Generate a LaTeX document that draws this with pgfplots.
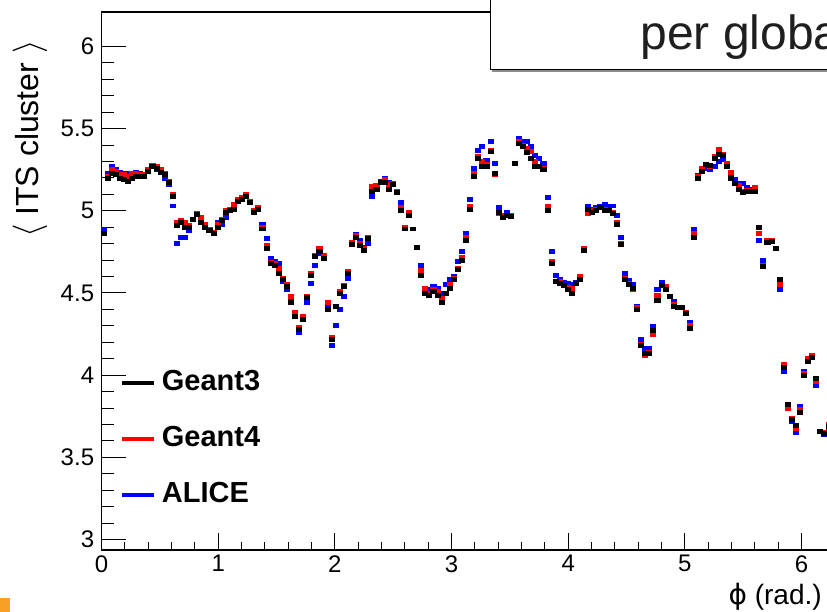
\documentclass[border=0pt]{standalone}
\usepackage{pgfplots}
\pgfplotsset{compat=1.18}
\usepackage{pgfplotstable}
\usepackage{fontspec}
\setmainfont{Liberation Sans}
\newfontfamily\symfont{DejaVu Sans}

\definecolor{g3col}{RGB}{0,0,0}
\definecolor{g4col}{RGB}{255,0,0}
\definecolor{alicecol}{RGB}{0,0,255}
\definecolor{slideorange}{RGB}{247,160,40}

% mean number of ITS clusters per bin of phi (180 bins over 2 pi)
\pgfplotstableread{
phi    g3     g4     alice
0.0175 4.86   4.86   4.89
0.0524 5.20   5.21   5.23
0.0873 5.23   5.25   5.27
0.1222 5.22   5.24   5.25
0.1571 5.20   5.22   5.235
0.1920 5.19   5.22   5.23
0.2269 5.18   5.21   5.23
0.2618 5.20   5.23   5.23
0.2967 5.21   5.23   5.235
0.3316 5.21   5.22   5.225
0.3665 5.21   5.22   5.22
0.4014 5.24   5.25   5.245
0.4363 5.27   5.275  5.27
0.4712 5.26   5.27   5.255
0.5061 5.235  5.255  5.245
0.5411 5.22   5.23   5.20
0.5760 5.175  5.18   5.16
0.6109 5.09   5.10   5.03
0.6458 4.91   4.93   4.80
0.6807 4.93   4.94   4.84
0.7156 4.90   4.93   4.84
0.7505 4.90   4.91   4.88
0.7854 4.945  4.95   4.945
0.8203 4.98   4.985  4.98
0.8552 4.93   4.96   4.93
0.8901 4.90   4.92   4.905
0.9250 4.88   4.89   4.89
0.9599 4.86   4.87   4.87
0.9948 4.90   4.92   4.93
1.0297 4.94   4.945  4.92
1.0647 4.99   5.00   4.96
1.0996 5.00   5.01   5.00
1.1345 5.01   5.04   5.01
1.1694 5.06   5.07   5.065
1.2043 5.07   5.08   5.075
1.2392 5.09   5.10   5.09
1.2741 5.05   5.055  5.06
1.3090 4.99   5.00   5.00
1.3439 5.01   5.02   5.02
1.3788 4.89   4.90   4.92
1.4137 4.77   4.79   4.83
1.4486 4.68   4.685  4.71
1.4835 4.67   4.68   4.69
1.5184 4.62   4.65   4.68
1.5533 4.58   4.59   4.57
1.5882 4.54   4.55   4.52
1.6232 4.44   4.48   4.46
1.6581 4.36   4.38   4.38
1.6930 4.28   4.29   4.26
1.7279 4.34   4.36   4.35
1.7628 4.475  4.48   4.44
1.7977 4.61   4.62   4.56
1.8326 4.72   4.73   4.67
1.8675 4.755  4.77   4.74
1.9024 4.71   4.73   4.72
1.9373 4.40   4.44   4.41
1.9722 4.22   4.23   4.18
2.0071 4.42   4.42   4.30
2.0420 4.50   4.51   4.40
2.0769 4.54   4.545  4.48
2.1118 4.62   4.63   4.59
2.1468 4.795  4.81   4.81
2.1817 4.84   4.85   4.855
2.2166 4.79   4.80   4.82
2.2515 4.76   4.77   4.78
2.2864 4.83   4.84   4.80
2.3213 5.12   5.15   5.09
2.3562 5.13   5.155  5.15
2.3911 5.175  5.17   5.18
2.4260 5.175  5.19   5.20
2.4609 5.13   5.16   5.175
2.4958 5.16   5.165  5.165
2.5307 5.11   5.12   5.12
2.5656 5.005  5.02   5.05
2.6005 4.89   4.90   4.89
2.6354 4.97   4.99   4.98
2.6704 4.89   4.89   4.89
2.7053 4.775  4.78   4.78
2.7402 4.61   4.64   4.67
2.7751 4.50   4.53   4.52
2.8100 4.485  4.50   4.52
2.8449 4.51   4.525  4.54
2.8798 4.485  4.51   4.53
2.9147 4.44   4.465  4.50
2.9496 4.50   4.50   4.55
2.9845 4.53   4.55   4.58
3.0194 4.58   4.59   4.60
3.0543 4.645  4.65   4.69
3.0892 4.70   4.715  4.755
3.1241 4.82   4.84   4.86
3.1590 5.01   5.03   5.07
3.1940 5.21   5.23   5.26
3.2289 5.32   5.33   5.37
3.2638 5.27   5.30   5.39
3.2987 5.27   5.28   5.31
3.3336 5.36   5.37   5.42
3.3685 5.23   5.22   5.29
3.4034 4.99   4.985  5.02
3.4383 4.96   4.97   4.975
3.4732 4.975  4.975  4.99
3.5081 4.965  4.975  4.97
3.5430 5.29   5.29   5.29
3.5779 5.41   5.425  5.44
3.6128 5.395  5.40   5.42
3.6477 5.355  5.38   5.42
3.6826 5.32   5.36   5.39
3.7176 5.27   5.30   5.34
3.7525 5.27   5.27   5.32
3.7874 5.25   5.26   5.29
3.8223 5.005  5.025  5.08
3.8572 4.68   4.69   4.755
3.8921 4.57   4.57   4.61
3.9270 4.56   4.57   4.58
3.9619 4.545  4.545  4.565
3.9968 4.52   4.535  4.56
4.0317 4.50   4.53   4.55
4.0666 4.56   4.56   4.565
4.1015 4.58   4.60   4.595
4.1364 4.76   4.77   4.77
4.1713 5.01   4.985  5.03
4.2062 4.99   5.00   5.01
4.2412 5.005  5.01   5.02
4.2761 5.02   5.02   5.03
4.3110 5.00   5.01   5.04
4.3459 5.00   5.005  5.03
4.3808 4.985  4.99   5.03
4.4157 4.92   4.93   4.97
4.4506 4.795  4.80   4.84
4.4855 4.58   4.59   4.62
4.5204 4.55   4.56   4.575
4.5553 4.53   4.52   4.55
4.5902 4.40   4.41   4.42
4.6251 4.18   4.19   4.22
4.6600 4.135  4.12   4.16
4.6949 4.13   4.14   4.16
4.7298 4.27   4.25   4.295
4.7647 4.455  4.485  4.52
4.7997 4.545  4.545  4.565
4.8346 4.52   4.54   4.52
4.8695 4.48   4.48   4.48
4.9044 4.42   4.43   4.45
4.9393 4.41   4.41   4.41
4.9742 4.41   4.41   4.41
5.0091 4.375  4.38   4.38
5.0440 4.285  4.30   4.32
5.0789 4.84   4.865  4.89
5.1138 5.20   5.21   5.215
5.1487 5.24   5.26   5.255
5.1836 5.28   5.28   5.26
5.2185 5.275  5.27   5.25
5.2534 5.32   5.33   5.27
5.2883 5.345  5.375  5.30
5.3233 5.34   5.345  5.31
5.3582 5.27   5.29   5.28
5.3931 5.20   5.235  5.22
5.4280 5.165  5.165  5.19
5.4629 5.13   5.155  5.165
5.4978 5.115  5.12   5.165
5.5327 5.12   5.125  5.14
5.5676 5.12   5.125  5.13
5.6025 5.12   5.145  5.13
5.6374 4.90   4.86   4.82
5.6723 4.66   4.67   4.70
5.7072 4.805  4.82   4.82
5.7421 4.815  4.82   4.82
5.7770 4.77   4.77   4.77
5.8119 4.58   4.555  4.52
5.8469 4.05   4.065  4.02
5.8818 3.82   3.80   3.80
5.9167 3.73   3.74   3.72
5.9516 3.695  3.675  3.65
5.9865 3.775  3.79   3.81
6.0214 4.00   4.01   4.02
6.0563 4.085  4.10   4.09
6.0912 4.11   4.12   4.11
6.1261 3.98   3.96   3.935
6.1610 3.655  3.66   3.66
6.1959 3.645  3.65   3.64
6.2308 3.69   3.70   3.68
}\itsdata

\pgfplotsset{
  rootframe/.style={
    scale only axis, width=366.55pt, height=269pt,
    at={(50.75pt,31pt)}, anchor=south west,
    xmin=0, xmax=6.2832, ymin=2.936, ymax=6.21,
    axis line style={line width=0.75pt},
    tick align=inside, tick pos=left,
    tick style={line width=0.5pt, black},
    /pgf/number format/assume math mode=true,
    ticklabel style={font=\fontsize{12}{14}\selectfont},
  },
  itsmark/.style={only marks, mark=square*, color=#1, mark size=1.1pt,
    mark options={draw=none, fill=#1, xscale=1.15, yscale=0.9},
    legend image code/.code={\draw[#1, line width=2pt] (0pt,0pt) -- (16pt,0pt);}},
}

\begin{document}
\begin{tikzpicture}
\useasboundingbox (0,0) rectangle (413.5pt,306pt);
\clip (0,0) rectangle (413.5pt,306pt);

% phi axis with its own tick lengths
\begin{axis}[rootframe,
  xtick={0,1,2,3,4,5,6}, minor x tick num=4, ytick=\empty,
  major tick length=8.5pt, minor tick length=4pt,
  xticklabel style={inner sep=0pt, yshift=-2.5pt},
]
\end{axis}

% cluster axis and the three simulations
\begin{axis}[rootframe,
  xtick=\empty, ytick={3,3.5,4,4.5,5,5.5,6}, minor y tick num=4,
  major tick length=12pt, minor tick length=6pt,
  yticklabel style={inner sep=0pt, xshift=-3.5pt},
  xlabel={{\symfont ϕ} (rad.)},
  xlabel style={at={(axis description cs:0.983,-0.087)}, anchor=east,
    inner sep=0pt, font=\fontsize{14}{16}\selectfont},
  ylabel={$\langle$ ITS cluster $\rangle$},
  ylabel style={at={(axis description cs:-0.0975,0.948)}, anchor=east,
    inner sep=0pt, font=\fontsize{16}{19}\selectfont},
  reverse legend,
  legend cell align=left,
  legend style={at={(axis description cs:0.0245,0.3365)}, anchor=north west,
    draw=none, fill=none, inner sep=0pt, column sep=3pt, row sep=14.5pt,
    nodes={inner sep=0pt, text height=10.5pt, text depth=3pt},
    font=\fontsize{14.5}{17}\selectfont\bfseries},
]
\addplot[itsmark=alicecol] table[x=phi, y=alice] {\itsdata};
\addlegendentry{ALICE}
\addplot[itsmark=g4col] table[x=phi, y=g4] {\itsdata};
\addlegendentry{Geant4}
\addplot[itsmark=g3col] table[x=phi, y=g3] {\itsdata};
\addlegendentry{Geant3}
\end{axis}

% title pave with its shadow
\fill[black!45] (246pt,270pt) rectangle (420pt,271pt);
\draw[line width=0.5pt, fill=white] (245pt,271pt) rectangle (420pt,315pt);
\node[anchor=base west, inner sep=0pt, font=\fontsize{24}{28}\selectfont, text=black!88]
  at (320pt,281pt) {per global track};

% slide corner mark
\fill[slideorange] (0,0) rectangle (5pt,7pt);
\end{tikzpicture}
\end{document}
